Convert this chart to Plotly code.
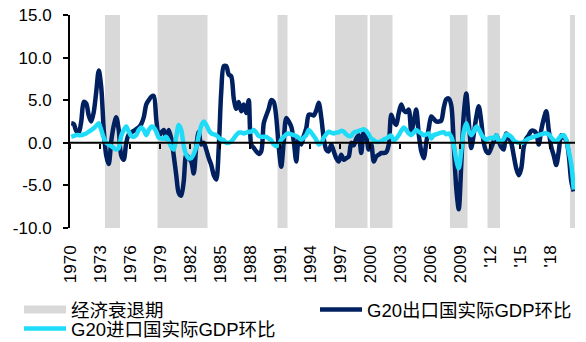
import plotly.graph_objects as go
import pandas as pd

start_quarter = "1970Q1"

export_gdp = [
    2.3, 2.2, 1.4, 1.2, 2.5, 4.8, 4.6, 3.2, 2.5, 3.6,
    6.0, 8.5, 6.5, 1.5, -1.5, -2.5, 0.2, 2.0, 3.0, 1.5,
    -1.5, -2.0, 0.0, 1.0, 1.2, 1.4, 1.6, 1.8, 2.2, 3.0,
    4.5, 5.0, 5.4, 5.5, 2.8, 0.8, 1.2, 1.5, 0.5, 1.5,
    0.5, -1.5, -3.8, -5.9, -6.2, -4.5, -1.4, -1.8, -2.2, -3.6,
    -0.5, 1.3, -0.2, 0.0, -0.8, -1.8, -2.6, -3.8, -4.3, -0.6,
    6.0, 9.0, 9.0, 8.0, 7.8, 5.2, 4.0, 4.8, 3.7, 4.5,
    3.5, 5.0, -0.2, -0.6, -1.0, -1.3, -1.0, 2.3, 3.2, 4.0,
    5.0, 4.8, 3.0, -0.5, -2.8, 0.2, 2.9, 2.5, 1.9, 0.2,
    -2.2, 0.5, -0.2, 0.8, 1.7, 3.3, 3.3, 3.2, 3.8, 4.7,
    3.0, 0.5, -0.8, -1.0, -0.2, -1.0, -1.8, -2.2, -1.4, -2.0,
    -1.8, -1.6, 0.0, -0.3, 0.5, 0.9, -1.2, 1.3, 0.8, -0.8,
    -0.2, -2.2, -1.6, -1.4, -1.2, -1.2, -1.1, -0.2, 3.3, 2.5,
    2.1, 3.5, 4.5, 3.8, 3.6, 3.9, 1.3, 2.5, 3.9, 1.0,
    -1.0, -1.8, 0.0, 1.7, 3.1, 2.8, 2.5, 2.5, 2.6, 4.1,
    5.1, 5.2, 4.4, -0.2, -5.3, -7.8, -2.6, 3.3, 5.8, 2.5,
    -0.6, 1.0, 3.0, 4.3, 2.5, 0.0, -1.0, -1.2, -0.6, 0.2,
    0.9, 0.2, -0.5, -0.8, 1.1, 0.6, 0.0, -1.5, -3.0, -3.8,
    -3.0, -0.5, 0.5, 0.9, 1.4, 1.4, 1.1, -0.2, 1.5, 2.8,
    3.7, 1.5, -0.5, -1.5, -2.6, -1.0, 0.9, 0.6, 0.3, -1.4,
    -4.5, -5.7,
]

import_gdp = [
    0.7, 0.8, 0.9, 0.9, 0.9, 1.0, 1.1, 1.3, 1.5, 1.7,
    2.0, 2.3, 1.5, 0.6, 0.0, -0.2, -0.4, -0.6, -0.8, -0.6,
    0.8, 1.5, 1.9, 1.3, 0.8, 0.7, 0.9, 1.5, 1.8, 1.5,
    0.9, 1.5, 1.9, 1.8, 1.3, 0.6, 0.5, 0.5, 0.7, 0.2,
    -0.5, -0.8, 0.7, 2.1, 1.5, -0.4, -1.4, -1.8, -1.8, -1.3,
    -0.5, 0.8, 2.0, 2.5, 2.1, 1.5, 1.1, 1.0, 0.9, 0.6,
    0.4, 0.3, 0.0, 0.0, 0.15, 0.5, 0.9, 1.2, 1.2, 1.1,
    1.2, 1.3, 1.3, 1.5, 1.2, 0.8, 0.7, 0.7, 0.7, 0.5,
    0.3, -0.2, -0.4, -0.2, 0.35, 0.7, 1.0, 1.1, 1.0, 0.9,
    0.8, 0.6, 0.35, 0.6, 0.9, 1.5, 1.2, 0.8, 0.35, -0.2,
    0.0, 0.6, 1.0, 1.3, 1.2, 1.1, 1.2, 1.25, 1.4, 1.3,
    1.0, 0.8, 0.8, 1.2, 1.3, 1.4, 1.5, 1.6, 1.4, 1.0,
    0.5, 0.3, 0.1, 0.1, 0.2, 0.4, 0.5, 0.7, 0.85, 0.3,
    0.5, 0.9, 1.4, 1.8, 1.5, 1.1, 0.9, 1.2, 1.5, 1.3,
    1.1, 0.9, 1.0, 1.1, 0.5, 0.9, 1.0, 1.1, 1.2, 1.25,
    1.0, 1.1, 0.7, -0.3, -2.0, -3.0, -1.0, 1.3, 2.3, 1.4,
    0.9, 1.3, 1.9, 1.6, 1.0, 0.6, 0.35, 0.5, 0.6, 0.5,
    0.9, 0.2, 0.1, 0.5, 1.0, 0.9, 0.7, 0.3, 0.1, 0.0,
    0.0, 0.1, 0.3, 0.5, 0.6, 0.7, 0.8, 0.9, 1.0, 1.1,
    1.1, 1.0, 0.6, 0.3, 0.1, 0.5, 0.8, 0.9, 0.35, -1.0,
    -2.5, -5.5,
]

recessions = [
    ("1973Q3", "1974Q4"), ("1978Q4", "1983Q3"), ("1990Q4", "1991Q3"),
    ("1996Q3", "1999Q3"), ("2000Q1", "2002Q1"), ("2008Q1", "2009Q3"),
    ("2011Q4", "2012Q4"), ("2020Q1", "2020Q2"),
]

tick_years = [1970, 1973, 1976, 1979, 1982, 1985, 1988, 1991, 1994, 1997,
              2000, 2003, 2006, 2009, 2012, 2015, 2018]
tick_text = ["1970", "1973", "1976", "1979", "1982", "1985", "1988", "1991", "1994",
             "1997", "2000", "2003", "2006", "2009", "'12", "'15", "'18"]
y_ticks = [-10, -5, 0, 5, 10, 15]
y_tick_text = ["-10.0", "-5.0", "0.0", "5.0", "10.0", "15.0"]

names = ["经济衰退期", "G20出口国实际GDP环比", "G20进口国实际GDP环比"]

# ---- derived positions ----
def q_start(q):
    return q.year + (q.quarter - 1) / 4

quarters = pd.period_range(start_quarter, periods=len(export_gdp), freq="Q")
x = [q_start(q) + 0.125 for q in quarters]
x_min = q_start(quarters[0])
x_max = q_start(quarters[-1]) + 0.25

rec_x, rec_w = [], []
for s, e in recessions:
    a = q_start(pd.Period(s, freq="Q"))
    b = q_start(pd.Period(e, freq="Q")) + 0.25
    rec_x.append((a + b) / 2)
    rec_w.append(b - a)

GRAY = "#D9D9D9"
NAVY = "#002060"
CYAN = "#1EDCF8"
FONT = "Liberation Sans, Arial, Noto Sans CJK SC, sans-serif"

fig = go.Figure()
fig.add_trace(go.Bar(
    x=rec_x, y=[y_ticks[-1] - y_ticks[0]] * len(rec_x), base=y_ticks[0], width=rec_w,
    marker=dict(color=GRAY, line=dict(width=0)),
    showlegend=False, hoverinfo="skip",
))
# legend proxy for recession
fig.add_trace(go.Scatter(
    x=[None], y=[None], mode="lines", name=names[0],
    line=dict(color=GRAY, width=8), legend="legend",
))
# zero line with ticks (secondary x axis)
fig.add_trace(go.Scatter(
    x=[x_min, x_max], y=[0, 0], mode="lines", xaxis="x2",
    line=dict(color="black", width=2), showlegend=False, hoverinfo="skip",
))
fig.add_trace(go.Scatter(
    x=x, y=export_gdp, mode="lines", name=names[1],
    line=dict(color=NAVY, width=4.5, shape="spline", smoothing=0.8), legend="legend2",
))
fig.add_trace(go.Scatter(
    x=x, y=import_gdp, mode="lines", name=names[2],
    line=dict(color=CYAN, width=4.5, shape="spline", smoothing=0.8), legend="legend3",
))

PLOT_W = 586 - 70 - 11
PLOT_H = 342 - 15 - 114

def px_x(p):
    return (p - 70) / PLOT_W

def px_y(p):
    return (228 - p) / PLOT_H

leg_common = dict(bgcolor="rgba(0,0,0,0)", borderwidth=0, itemwidth=42,
                  font=dict(family=FONT, size=18.5, color="black"),
                  xanchor="left", yanchor="middle", orientation="v")

fig.update_layout(
    width=586, height=342,
    margin=dict(l=70, r=11, t=15, b=114, autoexpand=False),
    paper_bgcolor="white", plot_bgcolor="white",
    font=dict(family=FONT, size=17, color="black"),
    barmode="overlay",
    xaxis=dict(
        range=[x_min, x_max], showgrid=False, zeroline=False, showline=False,
        tickmode="array", tickvals=tick_years, ticktext=tick_text,
        tickangle=-90, ticks="", ticklabelstandoff=13,
        tickfont=dict(family=FONT, size=17),
    ),
    xaxis2=dict(
        range=[x_min, x_max], overlaying="x", anchor="free", position=0.4,
        showgrid=False, zeroline=False, showline=False, showticklabels=False,
        tickmode="array", tickvals=tick_years, ticks="outside", ticklen=5,
        tickwidth=2, tickcolor="black",
    ),
    yaxis=dict(
        range=[y_ticks[0], y_ticks[-1]], showgrid=False, zeroline=False,
        showline=True, linecolor="black", linewidth=2,
        tickmode="array", tickvals=y_ticks, ticktext=y_tick_text,
        ticks="outside", ticklen=5, tickwidth=2, tickcolor="black",
        ticklabelstandoff=8, tickfont=dict(family=FONT, size=17),
    ),
    legend=dict(x=px_x(19), y=px_y(310), **leg_common),
    legend2=dict(x=px_x(315), y=px_y(310), **leg_common),
    legend3=dict(x=px_x(19), y=px_y(329), **leg_common),
)

fig.write_html("out.html")
